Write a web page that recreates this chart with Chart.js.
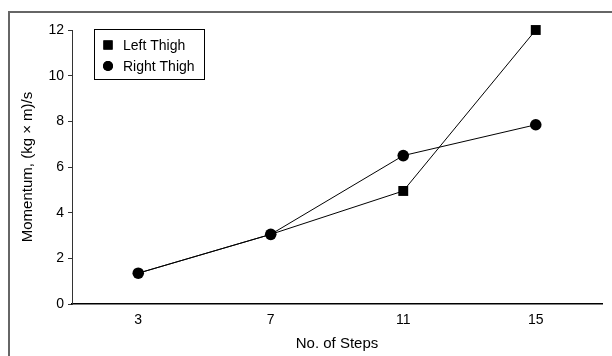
<!DOCTYPE html>
<html>
<head>
<meta charset="utf-8">
<script src="https://cdn.jsdelivr.net/npm/chart.js@4"></script>
<style>
  html, body { margin: 0; padding: 0; background: #fff; }
  #wrap { width: 612px; height: 356px; position: relative; }
</style>
</head>
<body>
<div id="wrap"><canvas id="chart" width="612" height="356"></canvas></div>
<script>
const steps = [3, 7, 11, 15];
const leftThigh = [1.35, 3.05, 4.95, 12.0];
const rightThigh = [1.35, 3.05, 6.5, 7.85];
const yTicks = [0, 2, 4, 6, 8, 10, 12];

const FONT = "'Liberation Sans Narrow', 'Liberation Sans', Arial, sans-serif";

// outer frame (top + left edge of the figure box)
const framePlugin = {
  id: "frame",
  beforeDraw(chart) {
    const ctx = chart.ctx;
    ctx.save();
    ctx.strokeStyle = "#666";
    ctx.lineWidth = 2;
    ctx.beginPath();
    ctx.moveTo(9, 356);
    ctx.lineTo(9, 12);
    ctx.lineTo(612, 12);
    ctx.stroke();
    ctx.restore();
  }
};

// boxed legend inside the plot area
const boxLegend = {
  id: "boxLegend",
  afterDraw(chart) {
    const ctx = chart.ctx;
    const x = 94, y = 29, w = 110, h = 50;
    ctx.save();
    ctx.strokeStyle = "#000";
    ctx.lineWidth = 1;
    ctx.strokeRect(x + 0.5, y + 0.5, w, h);
    ctx.font = "14px " + FONT;
    ctx.textBaseline = "middle";
    chart.data.datasets.forEach((ds, i) => {
      const cy = y + 16 + i * 21;
      ctx.fillStyle = "#000";
      ctx.beginPath();
      Chart.helpers.drawPoint(ctx, {
        pointStyle: ds.pointStyle,
        radius: ds.pointStyle === "rect" ? 6.5 : 5,
        rotation: 0,
        borderWidth: 0
      }, x + 14, cy);
      ctx.fill();
      ctx.fillText(ds.label, x + 29, cy + 1);
    });
    ctx.restore();
  }
};

new Chart(document.getElementById("chart"), {
  type: "line",
  data: {
    datasets: [
      {
        label: "Left Thigh",
        data: steps.map((s, i) => ({ x: s, y: leftThigh[i] })),
        borderColor: "#000",
        backgroundColor: "#000",
        borderWidth: 1,
        pointStyle: "rect",
        // squares sit under the circles where the two series coincide
        pointRadius: [4.5, 4.5, 7, 7],
        pointBorderWidth: 0,
        pointBackgroundColor: "#000",
        tension: 0,
        clip: false,
        order: 2
      },
      {
        label: "Right Thigh",
        data: steps.map((s, i) => ({ x: s, y: rightThigh[i] })),
        borderColor: "#000",
        backgroundColor: "#000",
        borderWidth: 1,
        pointStyle: "circle",
        pointRadius: 5.8,
        pointBorderWidth: 0,
        pointBackgroundColor: "#000",
        tension: 0,
        clip: false,
        order: 1
      }
    ]
  },
  options: {
    responsive: false,
    animation: false,
    layout: { padding: { left: 0, top: 30, right: 10, bottom: 0 } },
    plugins: {
      legend: { display: false },
      tooltip: { enabled: false }
    },
    scales: {
      x: {
        type: "linear",
        min: 1,
        max: 17,
        afterBuildTicks: (scale) => { scale.ticks = steps.map(v => ({ value: v })); },
        afterFit: (scale) => { scale.height = 52; },
        grid: { drawOnChartArea: false, drawTicks: false },
        border: { color: "#000", width: 1.5 },
        ticks: { color: "#000", padding: 8, font: { family: FONT, size: 14 } },
        title: {
          display: true,
          text: "No. of Steps",
          color: "#000",
          font: { family: FONT, size: 15 },
          padding: { top: 0, bottom: 3 }
        }
      },
      y: {
        min: 0,
        max: 12,
        afterBuildTicks: (scale) => { scale.ticks = yTicks.map(v => ({ value: v })); },
        afterFit: (scale) => { scale.width = 72; },
        grid: { drawOnChartArea: false, drawTicks: true, tickLength: 4, color: "#333" },
        border: { color: "#333", width: 1 },
        ticks: { color: "#000", padding: 4, font: { family: FONT, size: 14 } },
        title: {
          display: true,
          text: "Momentum, (kg \u00d7 m)/s",
          color: "#000",
          font: { family: FONT, size: 15 },
          padding: { top: 19, bottom: 0 }
        }
      }
    }
  },
  plugins: [framePlugin, boxLegend]
});
</script>
</body>
</html>
